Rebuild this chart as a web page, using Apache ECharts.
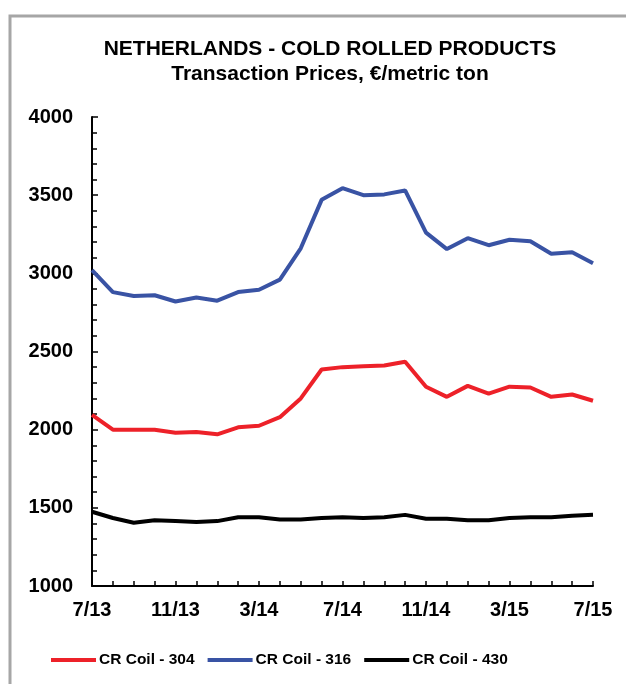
<!DOCTYPE html>
<html>
<head>
<meta charset="utf-8">
<script src="https://cdn.jsdelivr.net/npm/echarts@6/dist/echarts.min.js"></script>
<style>
html,body{margin:0;padding:0;background:#fff;}
#c{width:626px;height:684px;}
</style>
</head>
<body>
<div id="c"></div>
<script>
var categories = ['7/13','8/13','9/13','10/13','11/13','12/13','1/14','2/14','3/14','4/14','5/14','6/14','7/14','8/14','9/14','10/14','11/14','12/14','1/15','2/15','3/15','4/15','5/15','6/15','7/15'];
var coil304 = [2095,2000,2000,2000,1980,1985,1970,2015,2025,2080,2200,2385,2400,2405,2410,2435,2275,2210,2280,2230,2275,2270,2210,2225,2185];
var coil316 = [3020,2880,2855,2860,2820,2845,2825,2880,2895,2960,3160,3470,3545,3500,3505,3530,3260,3155,3225,3180,3215,3205,3125,3135,3065];
var coil430 = [1475,1435,1405,1420,1415,1410,1415,1440,1440,1425,1425,1435,1440,1435,1440,1455,1430,1430,1420,1420,1435,1440,1440,1450,1455];
var seriesNames = ['CR Coil - 304','CR Coil - 316','CR Coil - 430'];
var yTicks = {min:1000, max:4000, interval:500};

var font = 'Liberation Sans, Arial, sans-serif';
var chart = echarts.init(document.getElementById('c'), null, {renderer:'canvas'});
chart.setOption({
  animation:false,
  backgroundColor:'#fff',
  graphic:[{type:'rect', left:7.5, top:13.5, shape:{width:700, height:700}, style:{fill:'none', stroke:'#a6a6a6', lineWidth:3}, silent:true}],
  title:{
    text:'NETHERLANDS - COLD ROLLED PRODUCTS\nTransaction Prices, €/metric ton',
    left:325, top:32, textAlign:'center',
    textStyle:{fontFamily:font, fontWeight:'bold', fontSize:21, color:'#000', lineHeight:25}
  },
  legend:{
    top:647, left:46,
    itemWidth:45, itemHeight:4, itemGap:13, icon:'rect',
    textStyle:{fontFamily:font, fontWeight:'bold', fontSize:15.5, color:'#000', padding:[0,0,0,-2]},
    data:seriesNames
  },
  grid:{left:92, right:33, top:117, bottom:98, containLabel:false},
  xAxis:{
    type:'category', data:categories, boundaryGap:false,
    axisLine:{lineStyle:{color:'#000', width:2}},
    axisTick:{inside:true, length:5, interval:0, lineStyle:{color:'#000', width:1.5}},
    axisLabel:{interval:3, margin:14, fontFamily:font, fontWeight:'bold', fontSize:20, color:'#000'},
    splitLine:{show:false}
  },
  yAxis:{
    type:'value', min:yTicks.min, max:yTicks.max, interval:yTicks.interval,
    axisLine:{show:true, lineStyle:{color:'#000', width:2}},
    axisTick:{show:true, inside:true, length:6, lineStyle:{color:'#000', width:1.5}},
    minorTick:{show:true, splitNumber:5, length:5, lineStyle:{color:'#000', width:1.5}},
    axisLabel:{margin:19, fontFamily:font, fontWeight:'bold', fontSize:20, color:'#000', formatter:function(v){return String(v);}},
    splitLine:{show:false}
  },
  series:[
    {name:seriesNames[0], type:'line', data:coil304, showSymbol:false, symbol:'none', lineStyle:{width:4, color:'#ed2129'}, itemStyle:{color:'#ed2129'}},
    {name:seriesNames[1], type:'line', data:coil316, showSymbol:false, symbol:'none', lineStyle:{width:4, color:'#3953a4'}, itemStyle:{color:'#3953a4'}},
    {name:seriesNames[2], type:'line', data:coil430, showSymbol:false, symbol:'none', lineStyle:{width:4, color:'#000'}, itemStyle:{color:'#000'}}
  ]
});
</script>
</body>
</html>
